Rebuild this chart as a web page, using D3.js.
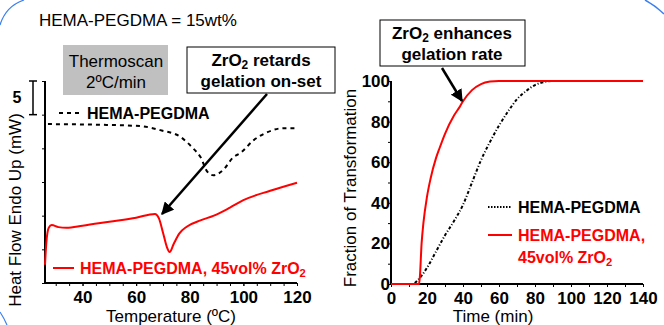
<!DOCTYPE html>
<html>
<head>
<script src="https://d3js.org/d3.v7.min.js"></script>
<style>
	body { margin: 0; background: #fff; }
	svg { display: block; font-family: "Liberation Sans", Arial, sans-serif; }
	.tick text { font-weight: bold; font-size: 17px; }
</style>
</head>
<body>
<svg id="chart" width="664" height="325"></svg>
<script>
// DSC thermoscan (temperature in C, heat flow in mW)
var dscPlainT  = [27.1, 46.6, 61.5, 69, 76.5, 81, 84, 86.6, 88.8, 92.5, 96.3, 98.9, 103.8, 109, 115, 120];
var dscPlainHF = [23.6, 23.5, 23.3, 22.7, 21.7, 20.1, 18.7, 16.5, 16.0, 16.8, 18.7, 19.3, 21.2, 22.4, 23.0, 23.0];
var dscZrT  = [26.0, 26.5, 27.4, 28.5, 31, 34, 40, 50, 60, 67, 68.5, 70, 71.5, 72.5, 74, 76, 79, 84, 89, 95, 100, 110, 120];
var dscZrHF = [2.7, 6.0, 8.2, 8.6, 8.3, 8.2, 8.5, 9.1, 9.7, 10.25, 9.6, 7.5, 5.3, 4.6, 5.8, 7.3, 8.4, 9.3, 10.0, 11.2, 12.3, 13.7, 14.9];
var tempTicks = [40, 60, 80, 100, 120];

// fraction of transformation vs time (min)
var timePlain = [0, 12, 15, 20, 25, 30, 35, 40, 45, 50, 55, 60, 65, 70, 75, 80, 85, 90, 140];
var fracPlain = [0, 0, 2, 8, 16, 24, 31, 39, 50, 61, 70, 78, 85, 91, 95, 98, 99.5, 100, 100];
var timeZr = [0, 15.5, 16, 17, 18, 20, 22, 25, 27, 30, 35, 38, 40, 45, 50, 55, 60, 140];
var fracZr = [0, 0, 3, 20, 30, 43, 52, 62, 67, 74, 83, 87, 90, 95.5, 98.5, 99.7, 100, 100];
var timeTicks = [0, 20, 40, 60, 80, 100, 120, 140];
var fracTicks = [0, 20, 40, 60, 80, 100];

var svg = d3.select("#chart");

// decorative slide arcs
svg.append("path").attr("d", "M0,25 Q6,6 24,0").attr("fill", "none").attr("stroke", "#3a7ff0").attr("stroke-width", 1.2);
svg.append("path").attr("d", "M645,0 Q656,6 664,14").attr("fill", "none").attr("stroke", "#3a7ff0").attr("stroke-width", 1.5);
svg.append("path").attr("d", "M0,312 Q4,318 7,325").attr("fill", "none").attr("stroke", "#3a7ff0").attr("stroke-width", 1.2);

function sub(textSel, parts) {
	parts.forEach(function(p) {
		var t = textSel.append("tspan").text(p[0]);
		if (p[1]) t.attr("baseline-shift", "-25%").attr("font-size", "70%");
	});
}

////////////////////////
// Left chart: DSC
////////////////////////
var xL = d3.scaleLinear().domain([26, 120]).range([45, 297]);
var yL = d3.scaleLinear().domain([0, 30]).range([283, 81]);

var gL = svg.append("g");
gL.append("g").attr("transform", "translate(0,283)")
	.call(d3.axisBottom(xL).tickValues(d3.range(30, 121, 5)).tickSize(3).tickFormat(""))
	.call(function(g) { g.select(".domain").attr("stroke-width", 2).attr("d", "M45,0H297"); });
gL.append("g").attr("transform", "translate(0,283)")
	.call(d3.axisBottom(xL).tickValues(tempTicks).tickSize(3).tickPadding(5))
	.call(function(g) { g.select(".domain").remove(); });
gL.append("g").attr("transform", "translate(45,0)")
	.call(d3.axisLeft(yL).tickValues(d3.range(0, 31, 5)).tickSize(3).tickFormat(""))
	.call(function(g) { g.select(".domain").attr("stroke-width", 2).attr("d", "M0,81V283"); });

// 5 mW scale bar
var sb = gL.append("g").attr("stroke", "#000").attr("stroke-width", 1.5);
sb.append("line").attr("x1", 33).attr("x2", 33).attr("y1", yL(30)).attr("y2", yL(25));
sb.append("line").attr("x1", 29).attr("x2", 37).attr("y1", yL(30)).attr("y2", yL(30));
sb.append("line").attr("x1", 29).attr("x2", 37).attr("y1", yL(25)).attr("y2", yL(25));
gL.append("text").attr("x", 17).attr("y", 103).attr("text-anchor", "middle")
	.attr("font-weight", "bold").attr("font-size", 16).text("5");

var lineL = d3.line().curve(d3.curveMonotoneX);
gL.append("path")
	.attr("d", lineL(dscPlainT.map(function(t, i) { return [xL(t), yL(dscPlainHF[i])]; })))
	.attr("fill", "none").attr("stroke", "#000").attr("stroke-width", 2).attr("stroke-dasharray", "4,4");
gL.append("path")
	.attr("d", lineL(dscZrT.map(function(t, i) { return [xL(t), yL(dscZrHF[i])]; })))
	.attr("fill", "none").attr("stroke", "#ff0000").attr("stroke-width", 2);

// legend
gL.append("line").attr("x1", 59).attr("x2", 81).attr("y1", 113).attr("y2", 113)
	.attr("stroke", "#000").attr("stroke-width", 2).attr("stroke-dasharray", "4,4");
gL.append("text").attr("x", 87).attr("y", 119).attr("font-weight", "bold").attr("font-size", 16).text("HEMA-PEGDMA");
gL.append("line").attr("x1", 53).attr("x2", 74).attr("y1", 268).attr("y2", 268)
	.attr("stroke", "#ff0000").attr("stroke-width", 2);
sub(gL.append("text").attr("x", 80).attr("y", 274).attr("font-weight", "bold").attr("font-size", 16).attr("fill", "#ff0000"),
	[["HEMA-PEGDMA, 45vol% ZrO"], ["2", true]]);

gL.append("text").attr("x", 171).attr("y", 322).attr("text-anchor", "middle").attr("font-size", 17).text("Temperature (ºC)");
gL.append("text").attr("transform", "translate(21,210) rotate(-90)").attr("text-anchor", "middle")
	.attr("font-size", 17).text("Heat Flow Endo Up (mW)");

// annotations
svg.append("text").attr("x", 39).attr("y", 26).attr("font-size", 17).text("HEMA-PEGDMA = 15wt%");
svg.append("rect").attr("x", 63).attr("y", 45).attr("width", 105).attr("height", 50).attr("fill", "#c0c0c0");
svg.append("text").attr("x", 116).attr("y", 67).attr("text-anchor", "middle").attr("font-size", 17).text("Thermoscan");
svg.append("text").attr("x", 116).attr("y", 88).attr("text-anchor", "middle").attr("font-size", 17).text("2ºC/min");

svg.append("defs").append("marker").attr("id", "arrow").attr("viewBox", "0 0 10 10")
	.attr("refX", 9).attr("refY", 5).attr("markerWidth", 5).attr("markerHeight", 5).attr("orient", "auto")
	.append("path").attr("d", "M0,0L10,5L0,10z").attr("fill", "#000");

svg.append("rect").attr("x", 187).attr("y", 47).attr("width", 148).attr("height", 46)
	.attr("fill", "#fff").attr("stroke", "#000").attr("stroke-width", 1);
sub(svg.append("text").attr("x", 261).attr("y", 66).attr("text-anchor", "middle").attr("font-weight", "bold").attr("font-size", 17),
	[["ZrO"], ["2", true], [" retards"]]);
svg.append("text").attr("x", 261).attr("y", 87).attr("text-anchor", "middle").attr("font-weight", "bold").attr("font-size", 17).text("gelation on-set");
svg.append("line").attr("x1", 267).attr("y1", 94).attr("x2", 162).attr("y2", 214)
	.attr("stroke", "#000").attr("stroke-width", 2.5).attr("marker-end", "url(#arrow)");

////////////////////////
// Right chart: gelation
////////////////////////
var xR = d3.scaleLinear().domain([0, 140]).range([391, 643]);
var yR = d3.scaleLinear().domain([0, 100]).range([284, 81]);

var gR = svg.append("g");
gR.append("g").attr("transform", "translate(0,284)")
	.call(d3.axisBottom(xR).tickValues(d3.range(0, 141, 10)).tickSize(3).tickFormat(""))
	.call(function(g) { g.select(".domain").attr("stroke-width", 2).attr("d", "M391,0H643"); });
gR.append("g").attr("transform", "translate(0,284)")
	.call(d3.axisBottom(xR).tickValues(timeTicks).tickSize(3).tickPadding(5))
	.call(function(g) { g.select(".domain").remove(); });
gR.append("g").attr("transform", "translate(391,0)")
	.call(d3.axisLeft(yR).tickValues(d3.range(0, 101, 10)).tickSize(3).tickFormat(""))
	.call(function(g) { g.select(".domain").attr("stroke-width", 2).attr("d", "M0,81V284"); });
gR.append("g").attr("transform", "translate(391,0)")
	.call(d3.axisLeft(yR).tickValues(fracTicks).tickSize(0).tickPadding(1))
	.call(function(g) { g.select(".domain").remove(); });

var lineR = d3.line().curve(d3.curveMonotoneX);
gR.append("path")
	.attr("d", lineR(timePlain.map(function(t, i) { return [xR(t), yR(fracPlain[i])]; })))
	.attr("fill", "none").attr("stroke", "#000").attr("stroke-width", 2).attr("stroke-dasharray", "3,2,1,2");
gR.append("path")
	.attr("d", lineR(timeZr.map(function(t, i) { return [xR(t), yR(fracZr[i])]; })))
	.attr("fill", "none").attr("stroke", "#ff0000").attr("stroke-width", 2);

gR.append("line").attr("x1", 488).attr("x2", 512).attr("y1", 207).attr("y2", 207)
	.attr("stroke", "#000").attr("stroke-width", 2).attr("stroke-dasharray", "1.5,1.5");
gR.append("text").attr("x", 518).attr("y", 213).attr("font-weight", "bold").attr("font-size", 16).text("HEMA-PEGDMA");
gR.append("line").attr("x1", 488).attr("x2", 512).attr("y1", 235).attr("y2", 235)
	.attr("stroke", "#ff0000").attr("stroke-width", 2);
gR.append("text").attr("x", 518).attr("y", 241).attr("font-weight", "bold").attr("font-size", 16).attr("fill", "#ff0000").text("HEMA-PEGDMA,");
sub(gR.append("text").attr("x", 518).attr("y", 263).attr("font-weight", "bold").attr("font-size", 16).attr("fill", "#ff0000"),
	[["45vol% ZrO"], ["2", true]]);

gR.append("text").attr("x", 493).attr("y", 322).attr("text-anchor", "middle").attr("font-size", 17).text("Time (min)");
gR.append("text").attr("transform", "translate(356,188) rotate(-90)").attr("text-anchor", "middle")
	.attr("font-size", 17).text("Fraction of Transformation");

svg.append("rect").attr("x", 380).attr("y", 20).attr("width", 145).attr("height", 46)
	.attr("fill", "#fff").attr("stroke", "#000").attr("stroke-width", 1);
sub(svg.append("text").attr("x", 452).attr("y", 39).attr("text-anchor", "middle").attr("font-weight", "bold").attr("font-size", 17),
	[["ZrO"], ["2", true], [" enhances"]]);
svg.append("text").attr("x", 452).attr("y", 60).attr("text-anchor", "middle").attr("font-weight", "bold").attr("font-size", 17).text("gelation rate");
svg.append("line").attr("x1", 442).attr("y1", 68).attr("x2", 462).attr("y2", 101)
	.attr("stroke", "#000").attr("stroke-width", 2.5).attr("marker-end", "url(#arrow)");
</script>
</body>
</html>
